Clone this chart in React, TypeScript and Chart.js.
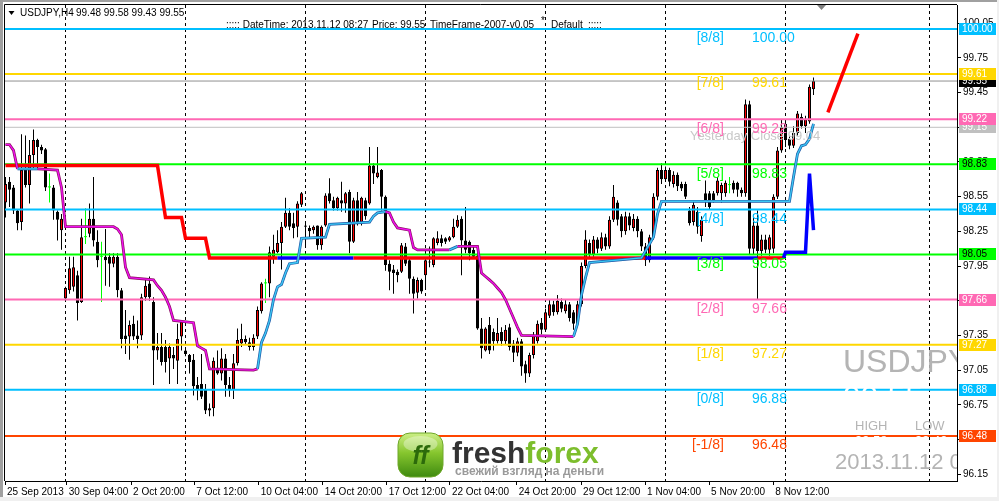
import React, { useEffect, useRef } from 'react';
import { Chart, registerables } from 'chart.js';

Chart.register(...registerables);

// ---------------- data (USDJPY H4) ----------------
const opens = [
  98.50, 98.68, 98.63, 98.43, 98.33, 98.78, 98.65, 98.91, 99.04, 98.98,
  98.96, 98.63, 98.63, 98.42, 98.26, 97.67, 97.74, 97.77, 97.87, 97.64,
  98.20, 98.23, 98.36, 98.16, 98.03, 98.03, 98.03, 97.97, 98.03, 97.74,
  97.35, 97.34, 97.45, 97.35, 97.35, 97.68, 97.80, 97.64, 97.22, 97.25,
  97.25, 97.15, 97.18, 97.13, 97.34, 97.22, 97.18, 97.14, 96.92, 96.93,
  96.88, 96.70, 96.72, 97.06, 97.02, 97.15, 96.92, 96.88, 97.11, 97.28,
  97.32, 97.29, 97.25, 97.34, 97.56, 97.80, 97.80, 98.03, 98.07, 98.15,
  98.29, 98.41, 98.32, 98.29, 98.48, 98.30, 98.28, 98.26, 98.30, 98.13,
  98.30, 98.58, 98.52, 98.45, 98.52, 98.49, 98.59, 98.16, 98.52, 98.32,
  98.52, 98.49, 98.82, 98.72, 98.78, 98.55, 97.97, 97.92, 97.90, 97.90,
  98.12, 98.00, 97.84, 97.72, 97.83, 97.87, 97.98, 97.96, 98.15, 98.19,
  98.19, 98.17, 98.20, 98.29, 98.36, 98.17, 98.16, 98.09, 98.04, 97.41,
  97.22, 97.44, 97.38, 97.30, 97.38, 97.30, 97.42, 97.28, 97.20, 97.30,
  97.10, 97.02, 97.18, 97.30, 97.46, 97.40, 97.52, 97.62, 97.55, 97.64,
  97.56, 97.62, 97.55, 97.45, 97.62, 97.95, 98.15, 98.05, 98.18, 98.10,
  98.20, 98.12, 98.35, 98.50, 98.38, 98.25, 98.38, 98.28, 98.36, 98.25,
  98.12, 98.00, 98.20, 98.55, 98.78, 98.70, 98.78, 98.66, 98.74, 98.66,
  98.66, 98.43, 98.33, 98.42, 98.21, 98.58, 98.58, 98.58, 98.58, 98.58,
  98.58, 98.65, 98.67, 98.67, 98.61, 98.58, 99.35, 98.10, 98.30, 98.08,
  98.18, 98.09, 98.10, 98.55, 98.95, 99.18, 99.05, 98.99, 99.10, 99.24,
  99.16, 99.20, 99.48,
];
const highs = [
  98.72, 98.72, 98.65, 98.44, 99.09, 99.08, 99.04, 99.13, 99.05, 99.00,
  98.97, 98.75, 98.65, 98.43, 98.40, 97.77, 98.03, 98.03, 97.91, 98.36,
  98.45, 98.49, 98.72, 98.26, 98.16, 98.27, 98.06, 98.06, 98.06, 97.76,
  97.57, 97.48, 97.52, 97.48, 97.71, 97.83, 97.86, 97.68, 97.37, 97.37,
  97.31, 97.28, 97.25, 97.45, 97.48, 97.24, 97.19, 97.19, 96.99, 97.19,
  96.93, 96.76, 97.16, 97.22, 97.24, 97.19, 96.99, 97.19, 97.41, 97.45,
  97.35, 97.33, 97.36, 97.60, 97.81, 97.84, 98.12, 98.22, 98.26, 98.33,
  98.54, 98.45, 98.41, 98.51, 98.59, 98.33, 98.30, 98.30, 98.30, 98.30,
  98.58, 98.71, 98.55, 98.55, 98.68, 98.59, 98.61, 98.54, 98.59, 98.55,
  98.54, 98.98, 98.84, 98.98, 98.79, 98.56, 98.00, 97.96, 97.92, 98.15,
  98.15, 98.02, 97.86, 97.85, 97.84, 98.02, 98.12, 98.20, 98.25, 98.22,
  98.20, 98.21, 98.36, 98.39, 98.38, 98.46, 98.17, 98.13, 98.06, 97.50,
  97.42, 97.51, 97.41, 97.50, 97.42, 97.44, 97.45, 97.31, 97.33, 97.32,
  97.13, 97.20, 97.38, 97.48, 97.50, 97.58, 97.66, 97.65, 97.70, 97.67,
  97.66, 97.64, 97.57, 97.65, 97.98, 98.26, 98.18, 98.21, 98.20, 98.24,
  98.23, 98.38, 98.65, 98.52, 98.40, 98.42, 98.41, 98.40, 98.38, 98.27,
  98.15, 98.22, 98.58, 98.80, 98.84, 98.81, 98.80, 98.77, 98.76, 98.68,
  98.68, 98.46, 98.52, 98.46, 98.38, 98.69, 98.60, 98.60, 98.72, 98.67,
  98.69, 98.72, 98.69, 98.68, 98.63, 99.39, 99.38, 98.40, 98.43, 98.22,
  98.22, 98.22, 98.57, 98.98, 99.22, 99.21, 99.07, 99.16, 99.29, 99.27,
  99.25, 99.52, 99.58,
];
const lows = [
  98.37, 98.46, 98.40, 98.26, 98.26, 98.63, 98.49, 98.79, 98.78, 98.92,
  98.60, 98.50, 98.35, 98.17, 98.09, 97.65, 97.71, 97.73, 97.48, 97.63,
  98.14, 98.20, 98.12, 97.94, 97.64, 97.78, 97.77, 97.94, 97.68, 97.24,
  97.19, 97.14, 97.31, 97.24, 97.31, 97.65, 97.65, 96.92, 97.14, 97.09,
  97.03, 96.93, 97.06, 96.93, 97.22, 97.17, 97.02, 96.83, 96.79, 96.80,
  96.67, 96.65, 96.65, 97.01, 96.96, 96.82, 96.82, 96.80, 97.09, 97.25,
  97.27, 97.22, 97.22, 97.32, 97.54, 97.63, 97.68, 97.97, 98.06, 97.92,
  98.28, 98.26, 98.19, 98.20, 98.46, 98.12, 98.20, 98.23, 98.09, 98.09,
  98.29, 98.49, 98.43, 98.43, 98.42, 98.41, 98.06, 98.15, 98.30, 98.30,
  98.35, 98.48, 98.66, 98.71, 98.43, 97.91, 97.74, 97.71, 97.81, 97.89,
  97.95, 97.71, 97.54, 97.67, 97.71, 97.76, 97.94, 97.94, 98.13, 98.12,
  98.14, 98.16, 98.19, 98.28, 97.87, 98.06, 98.00, 98.02, 97.40, 97.15,
  97.21, 97.19, 97.22, 97.28, 97.26, 97.27, 97.22, 97.12, 97.17, 97.00,
  96.94, 96.99, 97.15, 97.28, 97.36, 97.38, 97.50, 97.52, 97.53, 97.55,
  97.54, 97.47, 97.40, 97.43, 97.60, 97.93, 98.01, 98.03, 98.06, 98.08,
  98.09, 98.10, 98.33, 98.30, 98.20, 98.22, 98.26, 98.25, 98.20, 98.08,
  97.95, 97.98, 98.18, 98.52, 98.66, 98.68, 98.64, 98.63, 98.60, 98.60,
  98.53, 98.30, 98.30, 98.23, 98.16, 98.46, 98.44, 98.50, 98.56, 98.50,
  98.55, 98.58, 98.58, 98.55, 98.55, 98.55, 98.05, 98.05, 97.66, 98.04,
  98.06, 98.04, 98.06, 98.53, 98.93, 98.98, 98.96, 98.97, 99.08, 99.14,
  99.10, 99.18, 99.43,
];
const closes = [
  98.66, 98.61, 98.43, 98.32, 98.78, 98.65, 98.91, 99.04, 98.98, 98.95,
  98.63, 98.63, 98.43, 98.35, 98.36, 97.76, 97.93, 97.94, 97.63, 98.20,
  98.20, 98.36, 98.17, 98.00, 98.03, 98.00, 97.97, 98.03, 97.74, 97.32,
  97.32, 97.44, 97.34, 97.32, 97.68, 97.78, 97.68, 97.22, 97.25, 97.12,
  97.12, 97.25, 97.15, 97.32, 97.47, 97.19, 97.12, 96.91, 96.88, 96.82,
  96.70, 96.72, 97.13, 97.02, 97.15, 96.92, 96.88, 97.11, 97.31, 97.32,
  97.29, 97.25, 97.33, 97.57, 97.80, 97.80, 98.07, 98.09, 98.15, 98.29,
  98.41, 98.29, 98.28, 98.49, 98.58, 98.29, 98.25, 98.29, 98.13, 98.29,
  98.56, 98.51, 98.45, 98.54, 98.49, 98.58, 98.16, 98.52, 98.32, 98.54,
  98.38, 98.82, 98.75, 98.76, 98.55, 97.96, 97.90, 97.89, 97.87, 98.13,
  97.97, 97.84, 97.71, 97.83, 97.73, 98.00, 97.99, 98.19, 98.19, 98.15,
  98.16, 98.20, 98.29, 98.35, 98.17, 98.09, 98.06, 98.03, 97.41, 97.24,
  97.41, 97.22, 97.30, 97.37, 97.30, 97.40, 97.25, 97.20, 97.30, 97.08,
  97.02, 97.18, 97.35, 97.45, 97.40, 97.55, 97.62, 97.55, 97.65, 97.58,
  97.62, 97.50, 97.45, 97.62, 97.95, 98.18, 98.05, 98.18, 98.10, 98.20,
  98.12, 98.35, 98.55, 98.35, 98.25, 98.38, 98.30, 98.36, 98.25, 98.12,
  98.00, 98.20, 98.55, 98.78, 98.70, 98.78, 98.68, 98.74, 98.64, 98.62,
  98.55, 98.32, 98.48, 98.29, 98.35, 98.51, 98.46, 98.52, 98.69, 98.65,
  98.67, 98.65, 98.61, 98.61, 98.58, 99.35, 98.10, 98.30, 98.08, 98.18,
  98.09, 98.20, 98.55, 98.95, 99.15, 99.04, 98.99, 99.10, 99.27, 99.16,
  99.22, 99.50, 99.55,
];

// thick support/resistance step line (vertices) and segment colours
const thickX = [0, 38, 40, 44, 45, 50, 51, 68, 87, 160, 188, 194.5, 195, 200, 201, 202];
const thickY = [98.82, 98.82, 98.37, 98.37, 98.19, 98.19, 98.02, 98.02, 98.02, 98.02, 98.02, 98.02, 98.07, 98.07, 98.75, 98.26];
const thickC = ['R', 'R', 'R', 'R', 'R', 'R', 'R', 'B', 'R', 'B', 'R', 'B', 'B', 'B', 'B', 'B'];

// thin trailing line (vertices) and colour runs
const thinX = [0, 1, 2, 3, 8, 13, 14, 15, 27, 28, 29, 30, 31, 37, 38, 39, 40, 41, 42, 47, 48, 49, 50, 51, 62, 63, 64, 65, 66, 67, 68, 69, 70, 71, 73, 74, 80, 81, 91, 92, 93, 95, 96, 97, 98, 101, 102, 103, 111, 113, 118, 119, 120, 121, 122, 123, 124, 125, 126, 127, 128, 129, 142, 143, 144, 145, 146, 159, 162, 163, 164, 196, 197, 198, 199, 200, 201, 202];
const thinY = [99.00, 99.00, 98.95, 98.79, 98.79, 98.78, 98.63, 98.29, 98.29, 98.27, 98.22, 97.94, 97.85, 97.83, 97.78, 97.74, 97.68, 97.60, 97.48, 97.46, 97.26, 97.24, 97.22, 97.06, 97.05, 97.06, 97.29, 97.37, 97.48, 97.66, 97.77, 97.79, 97.89, 97.97, 97.98, 98.19, 98.20, 98.31, 98.33, 98.38, 98.41, 98.42, 98.41, 98.33, 98.28, 98.26, 98.11, 98.09, 98.09, 98.12, 98.12, 97.89, 97.86, 97.83, 97.80, 97.76, 97.72, 97.66, 97.58, 97.50, 97.42, 97.35, 97.34, 97.45, 97.70, 97.85, 97.98, 98.02, 98.20, 98.40, 98.51, 98.51, 98.72, 98.92, 98.99, 99.00, 99.05, 99.18];
const thinRuns = [['M', 3], ['C', 1], ['M', 21], ['C', 16], ['M', 7], ['C', 1], ['M', 13], ['C', 16]];

// trend line drawn on the chart
const trendX = [205.6, 213.1];
const trendY = [99.28, 99.96];

// Murrey math levels
const murreyLabels = ['[8/8]', '[7/8]', '[6/8]', '[5/8]', '[4/8]', '[3/8]', '[2/8]', '[1/8]', '[0/8]', '[-1/8]'];
const murreyValues = [100.00, 99.61, 99.22, 98.83, 98.44, 98.05, 97.66, 97.27, 96.88, 96.48];
const murreyColors = ['#00BFFF', '#FFD700', '#FF69B4', '#00FF00', '#00BFFF', '#00FF00', '#FF69B4', '#FFD700', '#00BFFF', '#FF4500'];

const bidLevel = 99.55;
const yesterdayLevel = 99.15;
const yesterdayText = 'Yesterday Close 99.04';

// right-hand price boxes
const boxPrices = [100.00, 99.55, 99.61, 99.15, 99.22, 98.83, 98.44, 98.05, 97.66, 97.27, 96.88, 96.48];
const boxColors = ['#00BFFF', '#000000', '#FFD700', '#C0C0C0', '#FF69B4', '#00FF00', '#00BFFF', '#00FF00', '#FF69B4', '#FFD700', '#00BFFF', '#FF4500'];
const boxTextColors = ['#fff', '#fff', '#fff', '#fff', '#fff', '#000', '#fff', '#000', '#fff', '#fff', '#fff', '#fff'];

// axes
const xTickPos = [-0.125, 15.3, 31.4, 47.2, 63.3, 79.3, 95.3, 111.1, 127.8, 143.9, 159.9, 175.9, 191.95];
const xTickLabels = ['25 Sep 2013', '30 Sep 04:00', '2 Oct 20:00', '7 Oct 12:00', '10 Oct 04:00', '14 Oct 20:00', '17 Oct 12:00', '22 Oct 04:00', '24 Oct 20:00', '29 Oct 12:00', '1 Nov 04:00', '5 Nov 20:00', '8 Nov 12:00'];
const gridPos = [15, 45, 75, 105, 135, 165, 195, 231];
const yTicks = [96.15, 96.45, 96.75, 97.05, 97.35, 97.65, 97.95, 98.25, 98.55, 98.85, 99.15, 99.45, 99.75, 100.05];

const X_MIN = -0.125;
const X_MAX = 237.875;
const Y_MIN = 96.0908;
const Y_MAX = 100.2076;

const FONT = '"Liberation Sans", Arial, sans-serif';

const RED = '#FF0000';
const BLUE = '#0000FF';
const MAG = '#F010F0';
const MAG_DARK = '#8A1060';
const CYAN = '#3CC8F4';
const CYAN_DARK = '#1E5AA8';

function expandRuns(runs: any[]) {
  const out: string[] = [];
  runs.forEach(([c, n]) => { for (let k = 0; k < n; k++) out.push(c); });
  return out;
}

const decoPlugin = {
  id: 'deco',
  beforeDraw(chart: any) {
    const { ctx } = chart;
    ctx.save();
    ctx.fillStyle = '#FFFFFF';
    ctx.fillRect(0, 0, chart.width, chart.height);
    ctx.fillStyle = '#A0A0A0';
    ctx.fillRect(0, 0, chart.width, 2);
    ctx.fillRect(0, 0, 3, chart.height);
    ctx.fillStyle = '#F0F0F0';
    ctx.fillRect(0, 497, chart.width, 4);
    ctx.fillRect(997, 0, 2, chart.height);
    ctx.restore();
  },
  afterDatasetsDraw(chart: any) {
    const { ctx, chartArea: ca } = chart;
    const xs = chart.scales.x;
    const ys = chart.scales.y;
    const px = (v: number) => xs.getPixelForValue(v);
    const py = (v: number) => ys.getPixelForValue(v);
    ctx.save();
    ctx.beginPath();
    ctx.rect(ca.left, ca.top, ca.right - ca.left, ca.bottom - ca.top);
    ctx.clip();
    ctx.textBaseline = 'middle';

    // Yesterday close
    ctx.font = `13px ${FONT}`;
    ctx.fillStyle = '#C8C8C8';
    ctx.textAlign = 'left';
    ctx.fillText(yesterdayText, px(171.1), py(yesterdayLevel) + 9.5);

    // Murrey labels
    ctx.font = `14px ${FONT}`;
    murreyValues.forEach((v, k) => {
      const y = py(v) + 9.5;
      ctx.fillStyle = murreyColors[k];
      ctx.textAlign = 'right';
      ctx.fillText(murreyLabels[k], px(179.6), y);
      ctx.textAlign = 'left';
      ctx.fillText(v.toFixed(2), px(186.6), y);
    });

    // big info block (bottom right)
    ctx.textAlign = 'left';
    ctx.fillStyle = '#B4B4B4';
    ctx.font = `32px ${FONT}`;
    ctx.fillText('USDJPY', 843, 363);
    ctx.fillStyle = '#FFFFFF';
    ctx.fillText('99.55', 843, 399);
    ctx.fillStyle = '#B4B4B4';
    ctx.font = `13px ${FONT}`;
    ctx.fillText('HIGH', 855, 426);
    ctx.fillText('LOW', 915, 426);
    ctx.fillStyle = '#FFFFFF';
    ctx.fillText('99.58', 855, 441);
    ctx.fillText('99.43', 915, 441);
    ctx.fillStyle = '#B4B4B4';
    ctx.font = `22px ${FONT}`;
    ctx.fillText('2013.11.12 08:27', 835, 463);

    // logo
    const lx = 398, ly = 433, lw = 45, lh = 44, r = 12;
    const g = ctx.createLinearGradient(0, ly, 0, ly + lh);
    g.addColorStop(0, '#CDEF86');
    g.addColorStop(0.45, '#86C62E');
    g.addColorStop(1, '#3F8A10');
    ctx.beginPath();
    ctx.moveTo(lx + r, ly);
    ctx.arcTo(lx + lw, ly, lx + lw, ly + lh, r);
    ctx.arcTo(lx + lw, ly + lh, lx, ly + lh, r);
    ctx.arcTo(lx, ly + lh, lx, ly, r);
    ctx.arcTo(lx, ly, lx + lw, ly, r);
    ctx.closePath();
    ctx.fillStyle = g;
    ctx.fill();
    ctx.strokeStyle = '#6FA82A';
    ctx.lineWidth = 1;
    ctx.stroke();
    ctx.fillStyle = 'rgba(255,255,255,0.35)';
    ctx.beginPath();
    ctx.ellipse(lx + lw / 2, ly + 11, 17, 8, 0, 0, Math.PI * 2);
    ctx.fill();
    ctx.fillStyle = '#2C6A0B';
    ctx.font = `italic bold 25px ${FONT}`;
    ctx.textAlign = 'center';
    ctx.fillText('ff', lx + lw / 2, ly + lh / 2 + 2);
    ctx.textAlign = 'left';
    ctx.textBaseline = 'alphabetic';
    ctx.font = `bold 30px ${FONT}`;
    ctx.fillStyle = '#333333';
    ctx.fillText('fresh', 452, 463);
    const wFresh = ctx.measureText('fresh').width;
    ctx.fillStyle = '#7DBE2D';
    ctx.fillText('forex', 452 + wFresh, 463);
    ctx.font = `bold 12px ${FONT}`;
    ctx.fillStyle = '#9A9A9A';
    ctx.fillText('свежий взгляд на деньги', 455, 475);
    ctx.textBaseline = 'middle';

    // header texts
    ctx.fillStyle = '#000';
    ctx.beginPath();
    ctx.moveTo(8.5, 11);
    ctx.lineTo(14.5, 11);
    ctx.lineTo(11.5, 15);
    ctx.closePath();
    ctx.fill();
    ctx.font = `10px ${FONT}`;
    ctx.fillText('USDJPY,H4', 20, 13);
    ctx.fillText('99.48 99.58 99.43 99.55', 76, 13);
    ctx.fillText('::::: DateTime: 2013.11.12 08:27', 226, 25);
    ctx.fillText('Price: 99.55', 372, 25);
    ctx.fillText('TimeFrame-2007-v0.05', 430, 25);
    ctx.fillText('*', 541, 21);
    ctx.fillText('Default', 551, 25);
    ctx.fillText(':::::', 588, 25);
    ctx.restore();

    // frame (left & top)
    ctx.save();
    ctx.strokeStyle = '#000';
    ctx.lineWidth = 1;
    ctx.beginPath();
    ctx.moveTo(ca.left - 0.5, ca.bottom);
    ctx.lineTo(ca.left - 0.5, ca.top - 0.5);
    ctx.lineTo(ca.right, ca.top - 0.5);
    ctx.stroke();
    ctx.restore();
  },
  afterDraw(chart: any) {
    const { ctx } = chart;
    const ys = chart.scales.y;
    ctx.save();
    ctx.font = `10px ${FONT}`;
    ctx.textBaseline = 'middle';
    ctx.textAlign = 'left';
    boxPrices.forEach((p, k) => {
      const y = Math.round(ys.getPixelForValue(p));
      ctx.fillStyle = boxColors[k];
      ctx.fillRect(959, y - 6, 37, 12);
      ctx.fillStyle = boxTextColors[k];
      ctx.fillText(p.toFixed(2), 962, y + 0.5);
    });
    // shift marker
    ctx.fillStyle = '#808080';
    ctx.beginPath();
    ctx.moveTo(817, 5);
    ctx.lineTo(826, 5);
    ctx.lineTo(821.5, 10);
    ctx.closePath();
    ctx.fill();
    ctx.restore();
  },
};

function hline(level: number, color: string, width: number, order: number) {
  return {
    type: 'line',
    xAxisID: 'x',
    yAxisID: 'y',
    data: [{ x: X_MIN, y: level }, { x: X_MAX, y: level }],
    borderColor: color,
    borderWidth: width,
    pointRadius: 0,
    order,
  };
}

export default function App() {
  const ref = useRef<HTMLCanvasElement>(null);
  useEffect(() => {
    const idx = opens.map((_, i) => i);
    const isDoji = (i: number) => opens[i] === closes[i];
    const bodyFill = idx.map(i => (isDoji(i) ? '#00FF00' : closes[i] > opens[i] ? RED : '#000000'));
    const bodyBorder = idx.map(i => (isDoji(i) ? '#00FF00' : '#000000'));
    const bodyBW = idx.map(i => (isDoji(i) ? 0 : 1));
    const wickColor = idx.map(i => (isDoji(i) ? '#00FF00' : '#000000'));
    const thinC = expandRuns(thinRuns);
    const thinPts = thinX.map((x, k) => ({ x, y: thinY[k] }));

    const datasets: any[] = [];
    datasets.push({
      type: 'line', xAxisID: 'x', yAxisID: 'y',
      data: trendX.map((x, k) => ({ x, y: trendY[k] })),
      borderColor: RED, borderWidth: 3.5, pointRadius: 0, order: 0,
    });
    datasets.push({
      type: 'line', xAxisID: 'x', yAxisID: 'y',
      data: thinPts,
      borderColor: MAG, borderWidth: 1.4, pointRadius: 0, order: 1,
      segment: { borderColor: (c: any) => (thinC[c.p0DataIndex] === 'C' ? CYAN : MAG) },
    });
    datasets.push({
      type: 'line', xAxisID: 'x', yAxisID: 'y',
      data: thinPts,
      borderColor: MAG_DARK, borderWidth: 2.8, pointRadius: 0, order: 1.5,
      segment: { borderColor: (c: any) => (thinC[c.p0DataIndex] === 'C' ? CYAN_DARK : MAG_DARK) },
    });
    datasets.push({
      type: 'line', xAxisID: 'x', yAxisID: 'y',
      data: thickX.map((x, k) => ({ x, y: thickY[k] })),
      borderColor: RED, borderWidth: 3.5, pointRadius: 0, order: 2,
      segment: { borderColor: (c: any) => (thickC[c.p0DataIndex] === 'B' ? BLUE : RED) },
    });
    murreyValues.forEach((v, k) => datasets.push(hline(v, murreyColors[k], 2, 3)));
    datasets.push(hline(bidLevel, '#909090', 1, 3));
    datasets.push(hline(yesterdayLevel, '#C0C0C0', 1, 3));
    datasets.push({
      type: 'bar', xAxisID: 'x', yAxisID: 'y',
      data: idx.map(i => ({ x: i, y: [opens[i], closes[i]] })),
      backgroundColor: bodyFill, borderColor: bodyBorder, borderWidth: bodyBW,
      borderSkipped: false, barThickness: 3, grouped: false, inflateAmount: 0,
      minBarLength: 1, order: 4,
    });
    datasets.push({
      type: 'bar', xAxisID: 'x', yAxisID: 'y',
      data: idx.map(i => ({ x: i, y: [lows[i], highs[i]] })),
      backgroundColor: wickColor, borderWidth: 0,
      borderSkipped: false, barThickness: 1, grouped: false, inflateAmount: 0,
      order: 5,
    });

    const chart = new Chart(ref.current as HTMLCanvasElement, {
      type: 'bar',
      data: { datasets },
      options: {
        animation: false,
        responsive: false,
        maintainAspectRatio: false,
        devicePixelRatio: 1,
        events: [],
        layout: { padding: { left: 5, top: 5, right: 0, bottom: 0 } },
        plugins: { legend: { display: false }, tooltip: { enabled: false }, title: { display: false } },
        scales: {
          x: {
            type: 'linear', position: 'bottom', min: X_MIN, max: X_MAX, offset: false,
            afterBuildTicks: (s: any) => { s.ticks = xTickPos.map(v => ({ value: v })); },
            afterFit: (s: any) => { s.height = 20; s.paddingLeft = 0; s.paddingRight = 0; },
            ticks: {
              autoSkip: false, maxRotation: 0, minRotation: 0, align: 'start', labelOffset: 2,
              padding: 1, color: '#000', font: { family: FONT, size: 10 },
              callback: (_v: any, i: number) => xTickLabels[i],
            },
            grid: { drawOnChartArea: false, drawTicks: true, tickLength: 4, color: '#000', offset: false },
            border: { display: true, color: '#000', width: 1 },
          },
          xg: {
            type: 'linear', position: 'top', min: X_MIN, max: X_MAX, offset: false,
            afterBuildTicks: (s: any) => { s.ticks = gridPos.map(v => ({ value: v })); },
            afterFit: (s: any) => { s.height = 0; s.paddingLeft = 0; s.paddingRight = 0; },
            ticks: { display: false },
            grid: { drawOnChartArea: true, drawTicks: false, color: '#000', lineWidth: 1, offset: false, borderDash: [3, 3] },
            border: { display: false, dash: [3, 3] },
          },
          y: {
            type: 'linear', position: 'right', min: Y_MIN, max: Y_MAX, beginAtZero: false,
            afterBuildTicks: (s: any) => { s.ticks = yTicks.map(v => ({ value: v })); },
            afterFit: (s: any) => { s.width = 42; s.paddingTop = 0; s.paddingBottom = 0; },
            ticks: {
              autoSkip: false, padding: 2, color: '#000', font: { family: FONT, size: 10 },
              callback: (v: any) => Number(v).toFixed(2),
            },
            grid: { drawOnChartArea: false, drawTicks: true, tickLength: 4, color: '#000' },
            border: { display: true, color: '#000', width: 1 },
          },
        },
      } as any,
      plugins: [decoPlugin],
    } as any);
    return () => chart.destroy();
  }, []);

  return (
    <div style={{ position: 'fixed', left: 0, top: 0, width: 999, height: 501, background: '#fff' }}>
      <canvas ref={ref} width={999} height={501} style={{ display: 'block', width: 999, height: 501 }} />
    </div>
  );
}
